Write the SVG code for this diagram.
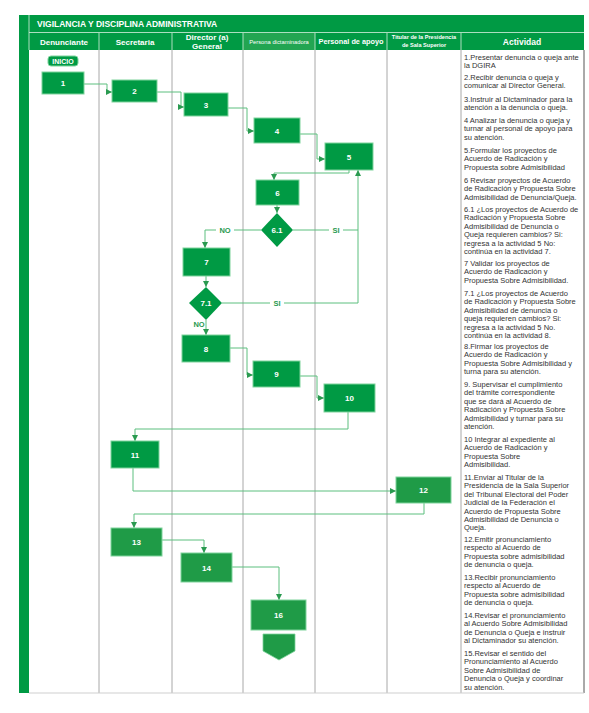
<svg xmlns="http://www.w3.org/2000/svg" width="589" height="713" viewBox="0 0 589 713">
<style>
.hdr{font-family:"Liberation Sans",Arial,sans-serif;font-weight:bold;fill:#fff;text-anchor:middle}
.col{stroke:#a8a8a8;stroke-width:1;fill:none}
.box{fill:#009a44;stroke:#7fd39c;stroke-width:1}
.box2{fill:#1f9b47;stroke:#7fd39c;stroke-width:1}
.lbl{font-family:"Liberation Sans",Arial,sans-serif;font-weight:bold;font-size:8px;fill:#fff;text-anchor:middle}
.con{stroke:#5cbf7f;stroke-width:1;fill:none}
.dec{font-family:"Liberation Sans",Arial,sans-serif;font-weight:bold;font-size:7.5px;fill:#2a9a50;text-anchor:middle}
.act{font-family:"Liberation Sans",Arial,sans-serif;font-size:7.5px;fill:#333}
</style>
<defs>
<marker id="ar" viewBox="0 0 6 6" refX="6" refY="3" markerWidth="6" markerHeight="6" markerUnits="userSpaceOnUse" orient="auto">
<path d="M0,0 L6,3 L0,6 Z" fill="#2a9a50"/>
</marker>
</defs>
<rect width="589" height="713" fill="#fff"/>
<g id="frame">
<rect x="19" y="15" width="565" height="35" fill="#009a44"/>
<rect x="243" y="33" width="72" height="17" fill="#22a552"/>
<rect x="19" y="50" width="10" height="643" fill="#009a44"/>
<line x1="29" y1="32.5" x2="584" y2="32.5" stroke="#d8f0df" stroke-width="0.8"/>
<g stroke="#d8f0df" stroke-width="0.8">
<line x1="99" y1="33" x2="99" y2="50"/><line x1="172" y1="33" x2="172" y2="50"/><line x1="243" y1="33" x2="243" y2="50"/><line x1="315" y1="33" x2="315" y2="50"/><line x1="387" y1="33" x2="387" y2="50"/><line x1="461" y1="33" x2="461" y2="50"/><line x1="29" y1="15" x2="29" y2="50"/>
</g>
<line class="col" x1="99" y1="50" x2="99" y2="693"/>
<line class="col" x1="172" y1="50" x2="172" y2="693" stroke="#666"/>
<line class="col" x1="243" y1="50" x2="243" y2="693"/>
<line class="col" x1="315" y1="50" x2="315" y2="693"/>
<line class="col" x1="387" y1="50" x2="387" y2="693"/>
<line class="col" x1="461" y1="50" x2="461" y2="693"/>
<line x1="584" y1="50" x2="584" y2="693" stroke="#555" stroke-width="1"/>
<line x1="29" y1="693" x2="584" y2="693" stroke="#cfcfcf" stroke-width="1"/>
<text class="hdr" x="37" y="27" font-size="8.5" style="text-anchor:start">VIGILANCIA Y DISCIPLINA ADMINISTRATIVA</text>
<text class="hdr" x="64" y="45" font-size="8">Denunciante</text>
<text class="hdr" x="135" y="45" font-size="8">Secretaria</text>
<text class="hdr" x="207" y="40" font-size="8">Director (a)</text>
<text class="hdr" x="207" y="48.5" font-size="8">General</text>
<text class="hdr" x="279" y="44" font-size="5.8" style="font-weight:normal">Persona dictaminadora</text>
<text class="hdr" x="351" y="44" font-size="7.3">Personal de apoyo</text>
<text class="hdr" x="424" y="39" font-size="5.6">Titular de la Presidencia</text>
<text class="hdr" x="424" y="46.5" font-size="5.6">de Sala Superior</text>
<text class="hdr" x="522" y="44.5" font-size="8.5">Actividad</text>
</g>
<g id="connectors">
<path class="con" d="M84,84 H107 V92 H112" marker-end="url(#ar)"/>
<path class="con" d="M157,92 H181 V107 H184" marker-end="url(#ar)"/>
<path class="con" d="M228,108 H247 V131 H254" marker-end="url(#ar)"/>
<path class="con" d="M300,134 H317 V159 H325" marker-end="url(#ar)"/>
<path class="con" d="M349,170 V173 H274 V180" marker-end="url(#ar)"/>
<path class="con" d="M277,205 V213" marker-end="url(#ar)"/>
<path class="con" d="M261,230 H205 V248" marker-end="url(#ar)"/>
<path class="con" d="M293,230 H358"/>
<path class="con" d="M358,303 V170" marker-end="url(#ar)"/>
<path class="con" d="M206,276 V287" marker-end="url(#ar)"/>
<path class="con" d="M222,303 H358"/>
<path class="con" d="M206,320 V335" marker-end="url(#ar)"/>
<path class="con" d="M230,348 H247 V375 H253" marker-end="url(#ar)"/>
<path class="con" d="M300,376 H317 V398 H324" marker-end="url(#ar)"/>
<path class="con" d="M348,412 V429 H135 V441" marker-end="url(#ar)"/>
<path class="con" d="M133,468 V491 H396" marker-end="url(#ar)"/>
<path class="con" d="M424,503 V514 H134 V528" marker-end="url(#ar)"/>
<path class="con" d="M162,540 H204 V553" marker-end="url(#ar)"/>
<path class="con" d="M232,567 H279 V600" marker-end="url(#ar)"/>
<rect x="216" y="226" width="18" height="9" fill="#fff"/><text class="dec" x="225" y="233">NO</text>
<rect x="329" y="226" width="14" height="9" fill="#fff"/><text class="dec" x="336" y="233">SI</text>
<rect x="270" y="299" width="14" height="9" fill="#fff"/><text class="dec" x="277" y="306">SI</text>
<text class="dec" x="199" y="327">NO</text>
</g>
<g id="inicio"><rect x="48" y="56" width="30" height="10" rx="3" fill="#009a44" stroke="#7fd39c"/><text class="lbl" x="63" y="63.5" style="font-size:7px">INICIO</text></g>
<g id="n1"><rect class="box" x="42" y="72" width="42" height="22"/><text class="lbl" x="63" y="86">1</text></g>
<g id="n2"><rect class="box" x="112" y="80" width="45" height="22"/><text class="lbl" x="134.5" y="94">2</text></g>
<g id="n3"><rect class="box" x="184" y="93" width="44" height="23"/><text class="lbl" x="206" y="107.5">3</text></g>
<g id="n4"><rect class="box" x="254" y="118" width="46" height="25"/><text class="lbl" x="277" y="133.5">4</text></g>
<g id="n5"><rect class="box" x="325" y="143" width="48" height="27"/><text class="lbl" x="349" y="159.5">5</text></g>
<g id="n6"><rect class="box" x="256" y="180" width="43" height="25"/><text class="lbl" x="277.5" y="195.5">6</text></g>
<g id="n61"><polygon points="277,213 293,230 277,247 261,230" fill="#009a44"/><text class="lbl" x="277" y="233">6.1</text></g>
<g id="n7"><rect class="box" x="183" y="248" width="47" height="28"/><text class="lbl" x="206.5" y="265">7</text></g>
<g id="n71"><polygon points="206,287 222,303 206,320 189,303" fill="#009a44"/><text class="lbl" x="206" y="306">7.1</text></g>
<g id="n8"><rect class="box" x="182" y="335" width="48" height="27"/><text class="lbl" x="206" y="351.5">8</text></g>
<g id="n9"><rect class="box" x="253" y="361" width="47" height="26"/><text class="lbl" x="276.5" y="377">9</text></g>
<g id="n10"><rect class="box" x="324" y="384" width="51" height="28"/><text class="lbl" x="349.5" y="401">10</text></g>
<g id="n11"><rect class="box" x="111" y="441" width="48" height="27"/><text class="lbl" x="135" y="457.5">11</text></g>
<g id="n12"><rect class="box2" x="396" y="477" width="55" height="26"/><text class="lbl" x="423.5" y="493">12</text></g>
<g id="n13"><rect class="box2" x="111" y="528" width="51" height="28"/><text class="lbl" x="136.5" y="545">13</text></g>
<g id="n14"><rect class="box2" x="181" y="553" width="51" height="29"/><text class="lbl" x="206.5" y="570.5">14</text></g>
<g id="n16"><rect class="box2" x="251" y="600" width="55" height="30"/><text class="lbl" x="278.5" y="618">16</text></g>
<g id="offpage"><polygon points="263,634 295,634 295,651 279,660 263,651" fill="#1f9b47" stroke="#7fd39c" stroke-width="0.8"/></g>
<g id="actividades" class="act">
<text x="464" y="60"><tspan x="464">1.Presentar denuncia o queja ante</tspan><tspan x="464" dy="8.4">la DGIRA</tspan></text>
<text x="464" y="80"><tspan x="464">2.Recibir denuncia o queja y</tspan><tspan x="464" dy="8.4">comunicar al Director General.</tspan></text>
<text x="464" y="102"><tspan x="464">3.Instruir al Dictaminador para la</tspan><tspan x="464" dy="8.4">atención a la denuncia o queja.</tspan></text>
<text x="464" y="123"><tspan x="464">4 Analizar la denuncia o queja y</tspan><tspan x="464" dy="8.4">turnar al personal de apoyo para</tspan><tspan x="464" dy="8.4">su atención.</tspan></text>
<text x="464" y="153"><tspan x="464">5.Formular los proyectos de</tspan><tspan x="464" dy="8.4">Acuerdo de Radicación y</tspan><tspan x="464" dy="8.4">Propuesta sobre Admisibilidad</tspan></text>
<text x="464" y="183"><tspan x="464">6 Revisar proyectos de Acuerdo</tspan><tspan x="464" dy="8.4">de Radicación y Propuesta Sobre</tspan><tspan x="464" dy="8.4">Admisibilidad de Denuncia/Queja.</tspan></text>
<text x="464" y="212"><tspan x="464">6.1 ¿Los proyectos de Acuerdo de</tspan><tspan x="464" dy="8.4">Radicación y Propuesta Sobre</tspan><tspan x="464" dy="8.4">Admisibilidad de Denuncia o</tspan><tspan x="464" dy="8.4">Queja requieren cambios? Si:</tspan><tspan x="464" dy="8.4">regresa a la actividad 5 No:</tspan><tspan x="464" dy="8.4">continúa en la actividad 7.</tspan></text>
<text x="464" y="266"><tspan x="464">7 Validar los proyectos de</tspan><tspan x="464" dy="8.4">Acuerdo de Radicación y</tspan><tspan x="464" dy="8.4">Propuesta Sobre Admisibilidad.</tspan></text>
<text x="464" y="296"><tspan x="464">7.1 ¿Los proyectos de Acuerdo</tspan><tspan x="464" dy="8.4">de Radicación y Propuesta Sobre</tspan><tspan x="464" dy="8.4">Admisibilidad de denuncia o</tspan><tspan x="464" dy="8.4">queja requieren cambios? Si:</tspan><tspan x="464" dy="8.4">regresa a la actividad 5 No.</tspan><tspan x="464" dy="8.4">continúa en la actividad 8.</tspan></text>
<text x="464" y="349"><tspan x="464">8.Firmar los proyectos de</tspan><tspan x="464" dy="8.4">Acuerdo de Radicación y</tspan><tspan x="464" dy="8.4">Propuesta Sobre Admisibilidad y</tspan><tspan x="464" dy="8.4">turna para su atención.</tspan></text>
<text x="464" y="387"><tspan x="464">9. Supervisar el cumplimiento</tspan><tspan x="464" dy="8.4">del trámite correspondiente</tspan><tspan x="464" dy="8.4">que se dará al Acuerdo de</tspan><tspan x="464" dy="8.4">Radicación y Propuesta Sobre</tspan><tspan x="464" dy="8.4">Admisibilidad y turnar para su</tspan><tspan x="464" dy="8.4">atención.</tspan></text>
<text x="464" y="442"><tspan x="464">10 Integrar al expediente al</tspan><tspan x="464" dy="8.4">Acuerdo de Radicación y</tspan><tspan x="464" dy="8.4">Propuesta Sobre</tspan><tspan x="464" dy="8.4">Admisibilidad.</tspan></text>
<text x="464" y="480"><tspan x="464">11.Enviar al Titular de la</tspan><tspan x="464" dy="8.4">Presidencia de la Sala Superior</tspan><tspan x="464" dy="8.4">del Tribunal Electoral del Poder</tspan><tspan x="464" dy="8.4">Judicial de la Federación el</tspan><tspan x="464" dy="8.4">Acuerdo de Propuesta Sobre</tspan><tspan x="464" dy="8.4">Admisibilidad de Denuncia o</tspan><tspan x="464" dy="8.4">Queja.</tspan></text>
<text x="464" y="542"><tspan x="464">12.Emitir pronunciamiento</tspan><tspan x="464" dy="8.4">respecto al Acuerdo de</tspan><tspan x="464" dy="8.4">Propuesta sobre admisibilidad</tspan><tspan x="464" dy="8.4">de denuncia o queja.</tspan></text>
<text x="464" y="580"><tspan x="464">13.Recibir pronunciamiento</tspan><tspan x="464" dy="8.4">respecto al Acuerdo de</tspan><tspan x="464" dy="8.4">Propuesta sobre admisibilidad</tspan><tspan x="464" dy="8.4">de denuncia o queja.</tspan></text>
<text x="464" y="618"><tspan x="464">14.Revisar el pronunciamiento</tspan><tspan x="464" dy="8.4">al Acuerdo Sobre Admisibilidad</tspan><tspan x="464" dy="8.4">de Denuncia o Queja e instruir</tspan><tspan x="464" dy="8.4">al Dictaminador su atención.</tspan></text>
<text x="464" y="656"><tspan x="464">15.Revisar el sentido del</tspan><tspan x="464" dy="8.4">Pronunciamiento al Acuerdo</tspan><tspan x="464" dy="8.4">Sobre Admisibilidad de</tspan><tspan x="464" dy="8.4">Denuncia o Queja y coordinar</tspan><tspan x="464" dy="8.4">su atención.</tspan></text>
</g>
</svg>
